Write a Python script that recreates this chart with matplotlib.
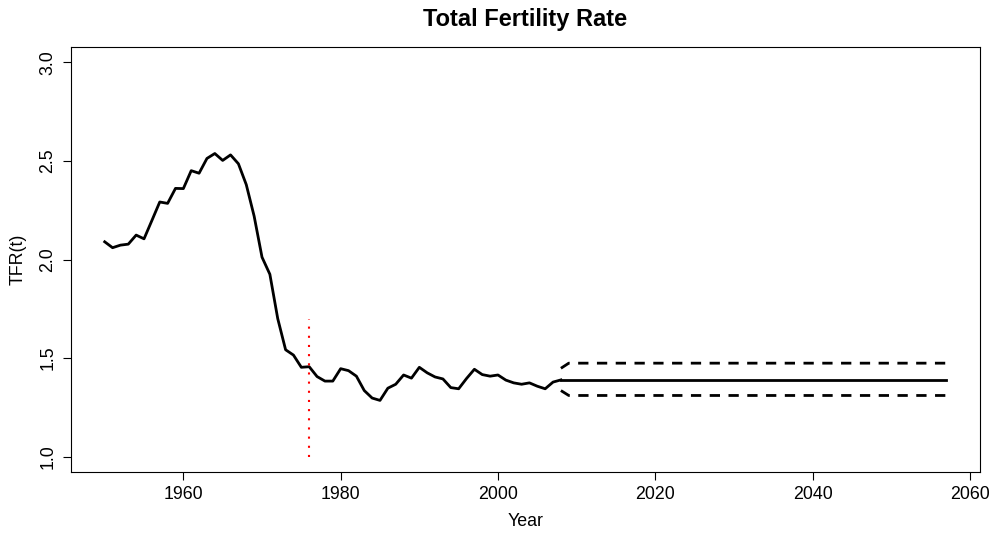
import matplotlib
matplotlib.use("Agg")
import matplotlib.pyplot as plt

plt.rcParams['font.family'] = ['Liberation Sans', 'DejaVu Sans']

# observed total fertility rate
years = list(range(1950, 2009))
tfr = [2.09, 2.06, 2.073, 2.078, 2.124, 2.105, 2.198, 2.292, 2.285, 2.361,
       2.36, 2.451, 2.438, 2.513, 2.538, 2.503, 2.531, 2.486, 2.38, 2.22,
       2.012, 1.925, 1.70, 1.542, 1.515, 1.453, 1.456, 1.406, 1.383, 1.383,
       1.446, 1.436, 1.408, 1.335, 1.297, 1.285, 1.347, 1.367, 1.414, 1.398,
       1.453, 1.425, 1.404, 1.394, 1.35, 1.344, 1.396, 1.443, 1.416, 1.408,
       1.414, 1.388, 1.374, 1.367, 1.374, 1.357, 1.344, 1.378, 1.389]

# projection (median and bounds)
proj_years = [2008, 2009, 2057]
proj_median = [1.389, 1.389, 1.389]
proj_upper = [1.448, 1.474, 1.474]
proj_lower = [1.335, 1.310, 1.310]

# marker for the start year
mark_year = 1976
mark_range = [1.0, 1.7]

fig = plt.figure(figsize=(9.92, 5.34), dpi=100)
ax = fig.add_axes([0.0716, 0.1155, 0.9163, 0.797])

ax.plot(years, tfr, color='black', lw=2, solid_joinstyle='round')
ax.plot(proj_years, proj_median, color='black', lw=2)
for b in (proj_upper, proj_lower):
    ax.plot(proj_years, b, color='black', lw=2, dashes=(3.7, 3.06))
ax.plot([mark_year, mark_year], mark_range, color='red', lw=1.5,
        linestyle=(0, (1, 3.4)))

x0, x1 = 1950, 2057
ax.set_xlim(x0 - 0.04 * (x1 - x0), x1 + 0.04 * (x1 - x0))
ax.set_ylim(1 - 0.08, 3 + 0.08)
ax.set_xticks([1960, 1980, 2000, 2020, 2040, 2060])
ax.set_yticks([1.0, 1.5, 2.0, 2.5, 3.0])
ax.set_yticklabels(['1.0', '1.5', '2.0', '2.5', '3.0'], rotation=90, va='center')
ax.tick_params(labelsize=12.8, length=5.5, width=0.8, pad=4)
ax.tick_params(axis='y', pad=5)
for s in ax.spines.values():
    s.set_linewidth(0.8)

ax.set_title('Total Fertility Rate', fontsize=17, fontweight='bold', pad=15)
ax.set_xlabel('Year', fontsize=12.8, va='center')
ax.xaxis.set_label_coords(0.5, -0.1144)
ax.set_ylabel('TFR(t)', fontsize=12.8, va='center')
ax.yaxis.set_label_coords(-0.058, 0.5)

fig.savefig('out.png', dpi=100)
